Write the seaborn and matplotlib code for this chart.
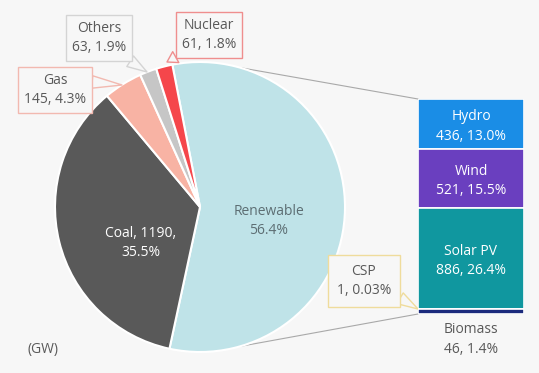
import numpy as np
import matplotlib
matplotlib.use("Agg")
import matplotlib.pyplot as plt
import seaborn as sns

# Installed capacity by source (GW)
pie_labels = ["Renewable", "Coal", "Gas", "Others", "Nuclear"]
pie_values = [1890, 1190, 145, 63, 61]
pie_pcts = ["56.4%", "35.5%", "4.3%", "1.9%", "1.8%"]
pie_colors = ["#bfe3e8", "#595959", "#f8b3a4", "#c6c6c6", "#f5464b"]

# Breakdown of renewables (GW), top to bottom of the bar
ren_labels = ["Hydro", "Wind", "Solar PV", "CSP", "Biomass"]
ren_values = [436, 521, 886, 1, 46]
ren_pcts = ["13.0%", "15.5%", "26.4%", "0.03%", "1.4%"]
ren_colors = ["#1a8de6", "#6a3fbf", "#10979f", "#f0d98c", "#1b2a7c"]

sns.set_theme(style="white")
plt.rcParams["font.family"] = ["Open Sans", "DejaVu Sans"]

W, H = 539, 373
bg = "#f7f7f7"
txt = "#595959"
fs = 10
ls = 1.4


def px(x, y):
    # pixel position (from top-left) -> main axes coords
    return x, H - y


fig = plt.figure(figsize=(W / 100, H / 100), dpi=100, facecolor=bg)
ax = fig.add_axes([0, 0, 1, 1])
ax.set_facecolor(bg)

# Pie
cx, cy = px(200, 207)
radius = 145
wedges, _ = ax.pie(pie_values, colors=pie_colors, startangle=101, counterclock=False,
                   center=(cx, cy), radius=radius,
                   wedgeprops=dict(edgecolor="white", linewidth=1.5))
ax.set_xlim(0, W)
ax.set_ylim(0, H)
ax.set_aspect("equal")
ax.axis("off")

ax.text(*px(269, 221), f"{pie_labels[0]}\n{pie_pcts[0]}", ha="center", va="center",
        color="#5d6e73", fontsize=fs, linespacing=ls)
ax.text(*px(141, 243), f"{pie_labels[1]}, {pie_values[1]},\n{pie_pcts[1]}", ha="center",
        va="center", color="white", fontsize=fs, linespacing=ls)

# Callouts for the small slices
callouts = [
    # index, box centre, tip, relpos, edge colour
    (2, px(55, 90), px(122, 85), (1.0, 0.75), "#f2b9b0"),
    (3, px(99, 38), px(147, 72), (0.9, 0.0), "#d4d4d4"),
    (4, px(209, 35), px(167, 62), (0.05, 0.0), "#ef8e8e"),
]
for i, box_xy, tip, rel, ec in callouts:
    ax.annotate(f"{pie_labels[i]}\n{pie_values[i]}, {pie_pcts[i]}", xy=tip, xytext=box_xy,
                ha="center", va="center", color=txt, fontsize=fs, linespacing=ls,
                bbox=dict(boxstyle="square,pad=0.4", fc=bg, ec=ec, lw=1),
                arrowprops=dict(arrowstyle="wedge,tail_width=0.9,shrink_factor=0.5",
                                fc=bg, ec=ec, lw=1, relpos=rel, shrinkA=0, shrinkB=0))

# Stacked bar of renewables
bar_l, bar_r, bar_t, bar_b = 418, 524, 99, 314
ax2 = fig.add_axes([bar_l / W, 1 - bar_b / H, (bar_r - bar_l) / W, (bar_b - bar_t) / H])
total = sum(ren_values)
bottom = 0
for lab, val, pct, col in zip(ren_labels, ren_values, ren_pcts, ren_colors):
    sns.barplot(x=["Renewable"], y=[val], bottom=bottom, color=col, saturation=1,
                width=1, edgecolor="white", linewidth=1.2, ax=ax2)
    if lab in ("Hydro", "Wind", "Solar PV"):
        ax2.annotate(f"{lab}\n{val}, {pct}", xy=(0, bottom + val / 2), xytext=(0, -2),
                     textcoords="offset points", ha="center", va="center",
                     color="white", fontsize=fs, linespacing=ls)
    bottom += val
ax2.set_xlim(-0.5, 0.5)
ax2.set_ylim(total, 0)
ax2.axis("off")

ax2.annotate(f"{ren_labels[4]}\n{ren_values[4]}, {ren_pcts[4]}", xy=(0, total),
             xytext=(0, -6), textcoords="offset points", ha="center", va="top",
             color=txt, fontsize=fs, linespacing=ls)

# CSP callout
ax.annotate(f"{ren_labels[3]}\n{ren_values[3]}, {ren_pcts[3]}", xy=px(bar_l, 309),
            xytext=px(364, 281), ha="center", va="center", color=txt, fontsize=fs,
            linespacing=ls,
            bbox=dict(boxstyle="square,pad=0.6", fc=bg, ec="#efdc9c", lw=1),
            arrowprops=dict(arrowstyle="wedge,tail_width=0.9,shrink_factor=0.5",
                            fc=bg, ec="#efdc9c", lw=1, relpos=(1.0, 0.15),
                            shrinkA=0, shrinkB=0))

# Connector lines from pie to bar
for ang, y_bar in [(74, bar_t), (-74, bar_b)]:
    a = np.deg2rad(ang)
    x0, y0 = cx + radius * np.cos(a), cy + radius * np.sin(a)
    ax.plot([x0, bar_l], [y0, H - y_bar], color="#a9a9a9", lw=0.8, zorder=0)

ax.text(*px(28, 350), "(GW)", ha="left", va="center", color=txt, fontsize=fs)

fig.savefig("out.png", dpi=100, facecolor=bg)
